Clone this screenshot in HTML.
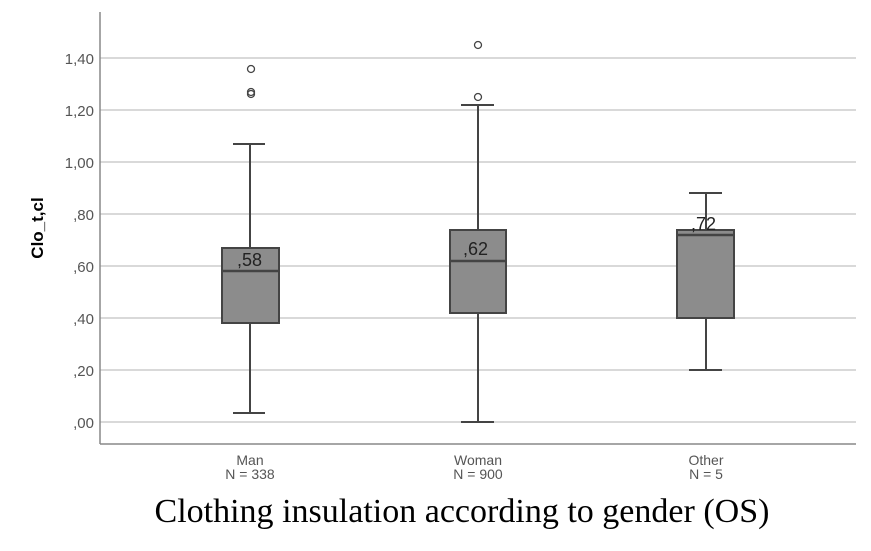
<!DOCTYPE html>
<html><head><style>body{margin:0;background:#fff}</style></head><body>
<svg width="871" height="546" xmlns="http://www.w3.org/2000/svg" font-family="Liberation Sans, sans-serif">
<rect width="871" height="546" fill="#fff"/>
<g stroke="#d9d9d9" stroke-width="2">
<line x1="100" x2="856" y1="58" y2="58"/><line x1="100" x2="856" y1="110" y2="110"/>
<line x1="100" x2="856" y1="162" y2="162"/><line x1="100" x2="856" y1="214" y2="214"/>
<line x1="100" x2="856" y1="266" y2="266"/><line x1="100" x2="856" y1="318" y2="318"/>
<line x1="100" x2="856" y1="370" y2="370"/><line x1="100" x2="856" y1="422" y2="422"/>
</g>
<g stroke="#888" stroke-width="1.5"><line x1="100" y1="12" x2="100" y2="444"/><line x1="100" y1="444" x2="856" y2="444"/></g>
<g font-size="15" fill="#555" text-anchor="end">
<text x="94" y="64">1,40</text><text x="94" y="116">1,20</text><text x="94" y="168">1,00</text>
<text x="94" y="220">,80</text><text x="94" y="272">,60</text><text x="94" y="324">,40</text>
<text x="94" y="376">,20</text><text x="94" y="428">,00</text></g>
<text transform="translate(43,228) rotate(-90)" text-anchor="middle" font-size="17" font-weight="bold">Clo_t,cl</text>
<g stroke="#444" stroke-width="2" fill="#8c8c8c">
<line x1="250" y1="144" x2="250" y2="413"/><line x1="233" y1="144" x2="265" y2="144"/><line x1="233" y1="413" x2="265" y2="413"/>
<rect x="222" y="248" width="57" height="75"/><line x1="222" y1="271" x2="279" y2="271" stroke-width="2.5"/>
<line x1="478" y1="105" x2="478" y2="422"/><line x1="461" y1="105" x2="494" y2="105"/><line x1="461" y1="422" x2="494" y2="422"/>
<rect x="450" y="230" width="56" height="83"/><line x1="450" y1="261" x2="506" y2="261" stroke-width="2.5"/>
<line x1="706" y1="193" x2="706" y2="370"/><line x1="689" y1="193" x2="722" y2="193"/><line x1="689" y1="370" x2="722" y2="370"/>
<rect x="677" y="230" width="57" height="88"/><line x1="677" y1="235" x2="734" y2="235" stroke-width="2.5"/>
</g>
<g stroke="#444" stroke-width="1.3" fill="none">
<circle cx="251" cy="69" r="3.5"/><circle cx="251" cy="92" r="3.5"/><circle cx="251" cy="94" r="3.5"/>
<circle cx="478" cy="45" r="3.5"/><circle cx="478" cy="97" r="3.5"/></g>
<g font-size="18" fill="#222"><text x="237" y="266">,58</text><text x="463" y="255">,62</text><text x="691" y="230">,72</text></g>
<g font-size="14" fill="#555" text-anchor="middle">
<text x="250" y="465">Man</text><text x="250" y="479">N = 338</text>
<text x="478" y="465">Woman</text><text x="478" y="479">N = 900</text>
<text x="706" y="465">Other</text><text x="706" y="479">N = 5</text></g>
<text x="462" y="522" text-anchor="middle" font-family="Liberation Serif, serif" font-size="34" fill="#000" textLength="615" lengthAdjust="spacingAndGlyphs">Clothing insulation according to gender (OS)</text>
</svg>
</body></html>
